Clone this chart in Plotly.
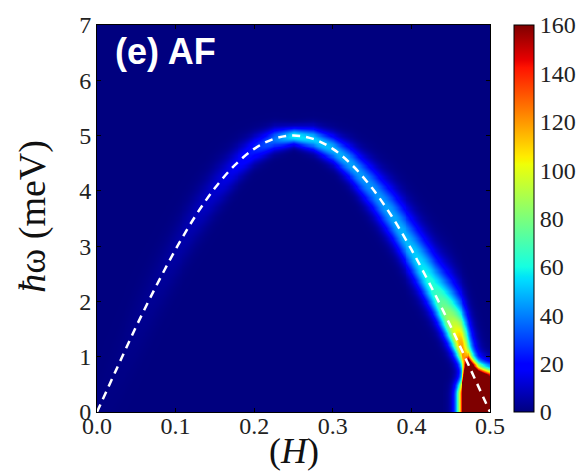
import numpy as np
import plotly.graph_objects as go

# Dispersion (dashed line)
disp_H = [0.000, 0.025, 0.050, 0.075, 0.100, 0.125, 0.150, 0.175, 0.200, 0.225, 0.250,
          0.275, 0.300, 0.325, 0.350, 0.375, 0.400, 0.425, 0.450, 0.475, 0.500]
disp_omega = [0.00, 0.78, 1.55, 2.27, 2.94, 3.54, 4.05, 4.46, 4.76, 4.94, 5.00,
              4.94, 4.76, 4.46, 4.05, 3.54, 2.94, 2.27, 1.55, 0.78, 0.00]

# Intensity ridge along the dispersion (read estimates: peak and widths in meV)
ridge_H = [0.00, 0.05, 0.10, 0.15, 0.20, 0.25, 0.30, 0.35, 0.40, 0.43, 0.45, 0.46,
           0.465, 0.47, 0.48, 0.49, 0.50]
ridge_peak = [0.5, 2, 5, 11, 25, 58, 48, 42, 50, 66, 92, 115, 122, 105, 45, 20, 10]
ridge_width_up = [0.45, 0.43, 0.36, 0.28, 0.17, 0.10, 0.17, 0.28, 0.40, 0.45, 0.50, 0.50,
                  0.50, 0.50, 0.50, 0.50, 0.50]
ridge_width_down = [0.45, 0.43, 0.36, 0.28, 0.17, 0.10, 0.17, 0.28, 0.33, 0.30, 0.28, 0.25,
                    0.25, 0.25, 0.25, 0.25, 0.25]

# Low-energy intensity pile-up near H = 0.5 (read estimates)
tail_H = [0.440, 0.452, 0.4575, 0.4635, 0.467, 0.4725, 0.485, 0.500]
tail_amp = [0.5, 20, 65, 160, 250, 300, 300, 300]
tail_top = [0.30, 0.30, 0.30, 0.34, 0.46, 0.64, 0.50, 0.40]
tail_width = [0.20, 0.20, 0.20, 0.20, 0.20, 0.20, 0.20, 0.22]

x_ticks = [0.0, 0.1, 0.2, 0.3, 0.4, 0.5]
x_ticklabels = ["0.0", "0.1", "0.2", "0.3", "0.4", "0.5"]
y_ticks = [0, 1, 2, 3, 4, 5, 6, 7]
cb_ticks = [0, 20, 40, 60, 80, 100, 120, 140, 160]

# Build the intensity map from the read parameters
Hg = np.linspace(0, 0.5, 401)
Wg = np.linspace(0, 7, 351)
wc = np.interp(Hg, disp_H, disp_omega)
P = np.exp(np.interp(Hg, ridge_H, np.log(ridge_peak)))
su = np.interp(Hg, ridge_H, ridge_width_up)
sd = np.interp(Hg, ridge_H, ridge_width_down)
D = Wg[:, None] - wc[None, :]
S = np.where(D >= 0, su[None, :], sd[None, :])
Z = P[None, :] * np.exp(-D ** 2 / (2 * S ** 2))

TA = np.exp(np.interp(Hg, tail_H, np.log(tail_amp)))
TA[Hg < tail_H[0]] = 0.0
TT = np.interp(Hg, tail_H, tail_top)
TW = np.interp(Hg, tail_H, tail_width)
DT = np.clip(Wg[:, None] - TT[None, :], 0, None)
Z = Z + TA[None, :] * np.exp(-DT ** 2 / (2 * TW[None, :] ** 2))
Z = np.round(np.clip(Z, 0, 170), 1)

jet = [
    [0.0, "rgb(0,0,127)"], [0.11, "rgb(0,0,255)"], [0.125, "rgb(0,0,255)"],
    [0.34, "rgb(0,219,255)"], [0.35, "rgb(0,229,247)"], [0.375, "rgb(21,255,226)"],
    [0.64, "rgb(239,255,8)"], [0.65, "rgb(247,245,0)"], [0.66, "rgb(255,236,0)"],
    [0.89, "rgb(255,19,0)"], [0.91, "rgb(232,0,0)"], [1.0, "rgb(127,0,0)"],
]

serif = "Liberation Serif"
fig = go.Figure()
fig.add_trace(go.Heatmap(
    x=Hg, y=Wg, z=Z, zmin=0, zmax=160, colorscale=jet, zsmooth="best",
    colorbar=dict(
        x=1.0616, xanchor="left", y=0.5, yanchor="middle", len=1.0, lenmode="fraction",
        thickness=20, thicknessmode="pixels", outlinewidth=1, outlinecolor="black",
        tickvals=cb_ticks, ticks="", ticklabelposition="outside",
        tickfont=dict(family=serif, size=24, color="#222"), xpad=0, ypad=0,
    ),
    hoverinfo="skip",
))
fig.add_trace(go.Scatter(
    x=disp_H, y=disp_omega, mode="lines", line_shape="spline",
    line=dict(color="white", width=2.5, dash="8px,6px"), hoverinfo="skip",
    showlegend=False,
))

fig.update_layout(
    width=583, height=476,
    margin=dict(l=97, r=91, t=23, b=64),
    paper_bgcolor="white", plot_bgcolor="rgb(0,0,127)",
    showlegend=False,
    xaxis=dict(range=[0, 0.5], tickvals=x_ticks, ticktext=x_ticklabels,
               ticks="inside", ticklen=4, tickcolor="black", mirror="ticks",
               showline=True, linecolor="black", linewidth=1, showgrid=False,
               zeroline=False, ticklabelstandoff=-8,
               tickfont=dict(family=serif, size=24, color="#222")),
    yaxis=dict(range=[0, 7], tickvals=y_ticks,
               ticks="inside", ticklen=4, tickcolor="black", mirror="ticks",
               showline=True, linecolor="black", linewidth=1, showgrid=False,
               zeroline=False, tickfont=dict(family=serif, size=24, color="#222")),
    annotations=[
        dict(text="(e) AF", x=0.04, y=0.99, xref="paper", yref="paper",
             xanchor="left", yanchor="top", showarrow=False,
             font=dict(family="Liberation Sans", size=36, color="white", weight="bold")),
        dict(text="(<i>H</i>)", x=0.5, y=-0.1, xref="paper", yref="paper",
             xanchor="center", yanchor="middle", showarrow=False,
             font=dict(family=serif, size=36, color="#111")),
        dict(text="<i>ħ</i>ω (meV)", x=-0.165, y=0.505, xref="paper", yref="paper",
             xanchor="center", yanchor="middle", textangle=-90, showarrow=False,
             font=dict(family=serif, size=38, color="#111")),
    ],
)

fig.write_html("out.html")
